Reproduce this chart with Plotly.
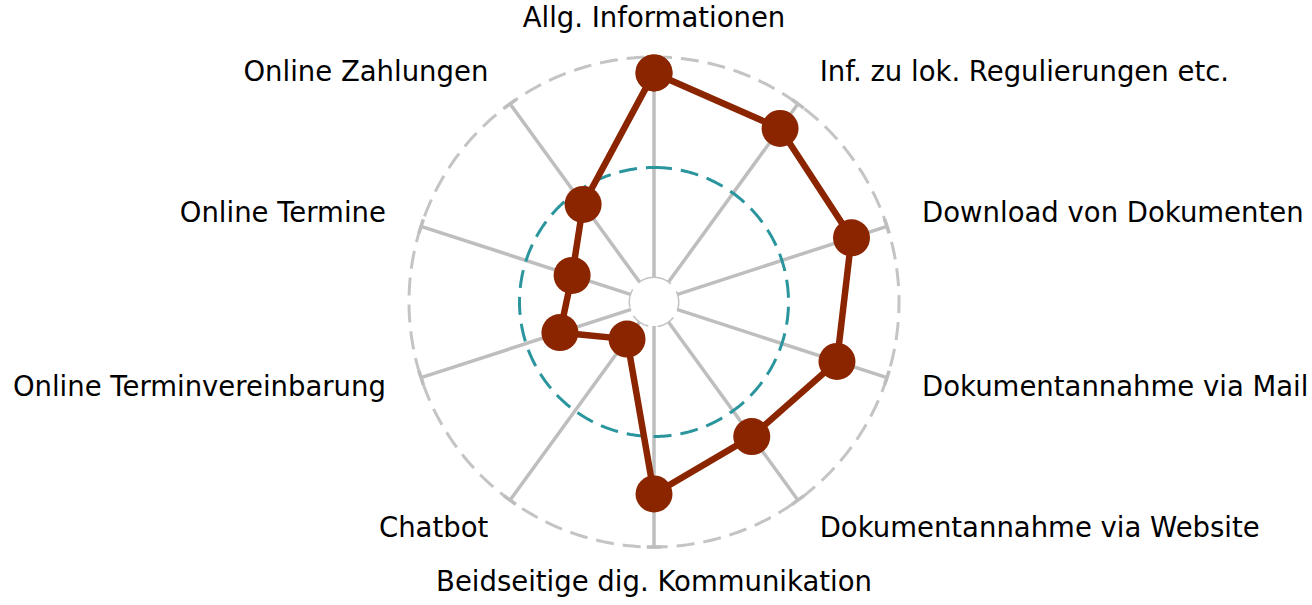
import plotly.graph_objects as go
import numpy as np

categories = [
    "Allg. Informationen",
    "Inf. zu lok. Regulierungen etc.",
    "Download von Dokumenten",
    "Dokumentannahme via Mail",
    "Dokumentannahme via Website",
    "Beidseitige dig. Kommunikation",
    "Chatbot",
    "Online Terminvereinbarung",
    "Online Termine",
    "Online Zahlungen",
]
values = [92.8, 86.2, 83.1, 76.2, 64.4, 76.0, 9.9, 33.9, 28.1, 43.7]
reference_value = 50
radial_max = 100
label_r = 116.7
range_max = 118.1

n = len(categories)
angles = [i * 360 / n for i in range(n)]

GRAY = "#C4C4C4"
SPOKE = "#BEBEBE"
RED = "#8B2500"
TEAL = "#2B959E"

fig = go.Figure()

circle_theta = list(np.linspace(0, 360, 361))

# spokes
sp_r, sp_t = [], []
for a in angles:
    sp_r += [0, radial_max, None]
    sp_t += [a, a, None]
fig.add_trace(go.Scatterpolar(
    r=sp_r, theta=sp_t, mode="lines",
    line=dict(color=SPOKE, width=3.5),
    hoverinfo="skip", showlegend=False, connectgaps=False,
))

# outer dashed circle, hole circle
for rv in (radial_max, 0):
    fig.add_trace(go.Scatterpolar(
        r=[rv] * len(circle_theta), theta=circle_theta, mode="lines",
        line=dict(color=GRAY, width=3, dash="18px,9px"),
        hoverinfo="skip", showlegend=False,
    ))

# reference (teal) circle
fig.add_trace(go.Scatterpolar(
    r=[reference_value] * len(circle_theta), theta=circle_theta, mode="lines",
    line=dict(color=TEAL, width=3, dash="18px,9px"),
    hoverinfo="skip", showlegend=False,
))

# end caps of spokes
cap_r, cap_t = [], []
for a in angles:
    cap_r += [radial_max, radial_max, None]
    cap_t += [a - 1.7, a + 1.7, None]
fig.add_trace(go.Scatterpolar(
    r=cap_r, theta=cap_t, mode="lines",
    line=dict(color=SPOKE, width=3.5),
    hoverinfo="skip", showlegend=False, connectgaps=False,
))

# data
fig.add_trace(go.Scatterpolar(
    r=values + [values[0]], theta=angles + [angles[0]],
    mode="lines+markers",
    line=dict(color=RED, width=6.5),
    marker=dict(color=RED, size=37),
    showlegend=False,
))

# category labels
positions = []
for a in angles:
    if a in (0, 180):
        positions.append("middle center")
    elif a < 180:
        positions.append("middle right")
    else:
        positions.append("middle left")
fig.add_trace(go.Scatterpolar(
    r=[label_r] * n, theta=angles, mode="text", text=categories,
    textposition=positions, cliponaxis=False,
    textfont=dict(family="DejaVu Sans", size=27.5, color="black"),
    hoverinfo="skip", showlegend=False,
))

fig.update_layout(
    width=1312, height=605,
    paper_bgcolor="white", plot_bgcolor="white",
    margin=dict(l=0, r=4, t=17, b=18),
    font=dict(family="DejaVu Sans", size=27.5, color="black"),
    polar=dict(
        bgcolor="rgba(0,0,0,0)",
        hole=24 / 285,
        radialaxis=dict(
            range=[0, range_max], showticklabels=False, ticks="",
            showline=False, showgrid=False,
        ),
        angularaxis=dict(
            rotation=90, direction="clockwise",
            tickvals=angles, showticklabels=False, ticks="",
            showline=False, showgrid=False,
        ),
    ),
)

fig.write_html(
    "out.html",
    config={"displayModeBar": False},
    post_script="document.body.style.margin='0';",
)
